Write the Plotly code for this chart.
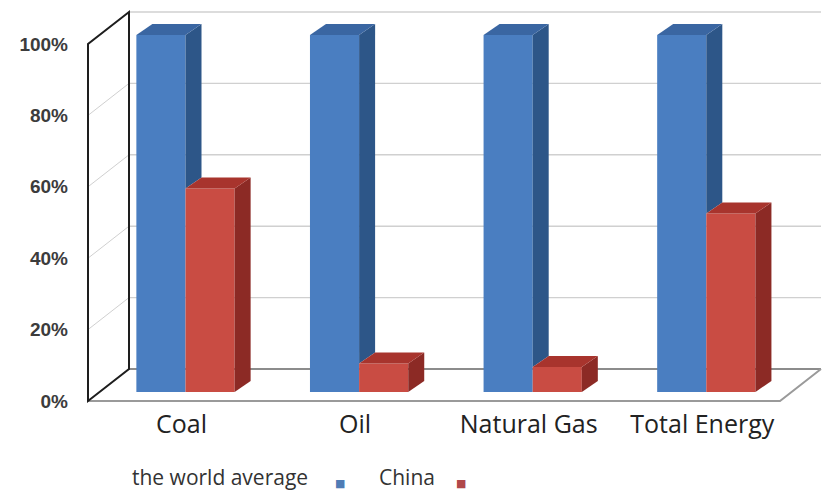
import plotly.graph_objects as go

# ---------------- data ----------------
categories = ["Coal", "Oil", "Natural Gas", "Total Energy"]
world_average = [100, 100, 100, 100]
china = [57, 8, 7, 50]
series_names = ["the world average", "China"]
y_tick_values = [0, 20, 40, 60, 80, 100]
y_tick_labels = ["0%", "20%", "40%", "60%", "80%", "100%"]

# ---------------- style / geometry ----------------
W, H = 822, 493
X0_PX, XS = 185.5, 173.6     # pixel of category 0 boundary, px per category
Y0_PX, YS = 392.0, 3.57      # pixel of 0% on bar front plane, px per percent

x_range = [(0 - X0_PX) / XS, (W - X0_PX) / XS]
y_range = [(Y0_PX - H) / YS, Y0_PX / YS]

def dx(px):
    return px / XS

def dy(px):
    return px / YS

BAR_W = 0.283
BAR_D = (dx(16), dy(11))          # depth of bars
FRONT = (dx(-11.5), dy(-9))        # box front plane relative to bar plane
BACK = (dx(29.5), dy(23))          # back wall relative to bar plane
WALL_L = dx(99.5 - X0_PX)          # left wall x on bar plane
FLOOR_R = dx(791.5 - X0_PX)        # right floor edge on bar plane

colors = {
    "blue_front": "#4A7EC1", "blue_top": "#3A66A2", "blue_side": "#2D5688",
    "red_front": "#C94C43", "red_top": "#A8342D", "red_side": "#8C2A25",
}
legend_colors = ["#4F7CB5", "#B0484A"]

fig = go.Figure()

# front faces as bars
idx = list(range(len(categories)))
fig.add_trace(go.Bar(
    x=[i - BAR_W / 2 for i in idx], y=world_average, width=BAR_W,
    name=series_names[0], marker=dict(color=colors["blue_front"], line=dict(width=0)),
    hovertext=categories, showlegend=False))
fig.add_trace(go.Bar(
    x=[i + BAR_W / 2 for i in idx], y=china, width=BAR_W,
    name=series_names[1], marker=dict(color=colors["red_front"], line=dict(width=0)),
    hovertext=categories, showlegend=False))

def poly(xs, ys, color):
    fig.add_trace(go.Scatter(
        x=xs + [xs[0]], y=ys + [ys[0]], mode="lines", fill="toself",
        fillcolor=color, line=dict(width=0, color=color),
        hoverinfo="skip", showlegend=False))

ddx, ddy = BAR_D
for i in idx:
    b, r = world_average[i], china[i]
    xb0, xb1 = i - BAR_W, i
    xr0, xr1 = i, i + BAR_W
    # blue side (visible part above red bar)
    low = min(r, b)
    poly([xb1, xb1 + ddx, xb1 + ddx, xb1], [low, low + ddy, b + ddy, b], colors["blue_side"])
    # blue top
    poly([xb0, xb1, xb1 + ddx, xb0 + ddx], [b, b, b + ddy, b + ddy], colors["blue_top"])
    # red side
    poly([xr1, xr1 + ddx, xr1 + ddx, xr1], [0, ddy, r + ddy, r], colors["red_side"])
    # red top
    poly([xr0, xr1, xr1 + ddx, xr0 + ddx], [r, r, r + ddy, r + ddy], colors["red_top"])

# invisible trace for front-plane tick axis
fig.add_trace(go.Scatter(
    x=[WALL_L] * len(y_tick_values), y=y_tick_values, yaxis="y2",
    mode="markers", marker=dict(opacity=0), hoverinfo="skip", showlegend=False))

# ---------------- walls & grid (shapes below traces) ----------------
shapes = []
fx, fy = FRONT
bx, by = BACK
grid_col = "#D0D0D0"
for v in y_tick_values:
    # back wall horizontal grid line
    shapes.append(dict(type="line", layer="below", x0=WALL_L + bx, y0=v + by,
                       x1=FLOOR_R + bx, y1=v + by,
                       line=dict(color="#8C8C8C" if v == 0 else grid_col, width=2 if v == 0 else 1.4)))
    # left wall diagonal grid line
    shapes.append(dict(type="line", layer="below", x0=WALL_L + fx, y0=v + fy,
                       x1=WALL_L + bx, y1=v + by, line=dict(color=grid_col, width=1)))
# floor front edge
shapes.append(dict(type="path", layer="below",
                   path=f"M {WALL_L + fx},{fy} L {FLOOR_R + fx},{fy} L {FLOOR_R + bx},{by}",
                   line=dict(color="#9A9A9A", width=2)))
# left wall outline
top = max(y_tick_values)
shapes.append(dict(type="path", layer="below",
                   path=(f"M {WALL_L + fx},{fy} L {WALL_L + fx},{top + fy} "
                         f"L {WALL_L + bx},{top + by} L {WALL_L + bx},{by} Z"),
                   line=dict(color="#1E1E1E", width=2)))

# ---------------- legend as annotations (text then marker) ----------------
annotations = []
legend_x = [130, 340, 377, 461]
legend_y = 477
annotations.append(dict(xref="paper", yref="paper", x=legend_x[0] / W, y=1 - legend_y / H,
                        xanchor="left", yanchor="middle", showarrow=False,
                        text=series_names[0], font=dict(family="Open Sans", size=21, color="#333333")))
annotations.append(dict(xref="paper", yref="paper", x=legend_x[1] / W, y=1 - 483 / H,
                        xanchor="center", yanchor="middle", showarrow=False,
                        text="■", font=dict(family="DejaVu Sans", size=11, color=legend_colors[0])))
annotations.append(dict(xref="paper", yref="paper", x=legend_x[2] / W, y=1 - legend_y / H,
                        xanchor="left", yanchor="middle", showarrow=False,
                        text=series_names[1], font=dict(family="Open Sans", size=21, color="#333333")))
annotations.append(dict(xref="paper", yref="paper", x=legend_x[3] / W, y=1 - 483 / H,
                        xanchor="center", yanchor="middle", showarrow=False,
                        text="■", font=dict(family="DejaVu Sans", size=11, color=legend_colors[1])))

fig.update_layout(
    width=W, height=H, autosize=False,
    margin=dict(l=0, r=0, t=0, b=0, pad=0),
    paper_bgcolor="white", plot_bgcolor="white",
    barmode="overlay", showlegend=False,
    xaxis=dict(range=x_range, domain=[0, 1], anchor="free", position=(H - 401) / H,
               tickvals=[i - dx(4) for i in idx], ticktext=categories, showline=False, showgrid=False,
               zeroline=False, ticks="", ticklabelstandoff=6, automargin=False,
               tickfont=dict(family="Open Sans", size=25, color="#222222")),
    yaxis=dict(range=y_range, domain=[0, 1], visible=False, showgrid=False,
               zeroline=False, automargin=False),
    yaxis2=dict(range=[y_range[0] + dy(9), y_range[1] + dy(9)], overlaying="y",
                anchor="free", position=88 / W, side="left",
                tickvals=y_tick_values, ticktext=y_tick_labels,
                showline=False, showgrid=False, zeroline=False, ticks="",
                ticklabelstandoff=20, automargin=False,
                tickfont=dict(family="Liberation Sans", size=19, color="#3C3C3C", weight="bold")),
    shapes=shapes, annotations=annotations,
)

fig.write_html("out.html")
